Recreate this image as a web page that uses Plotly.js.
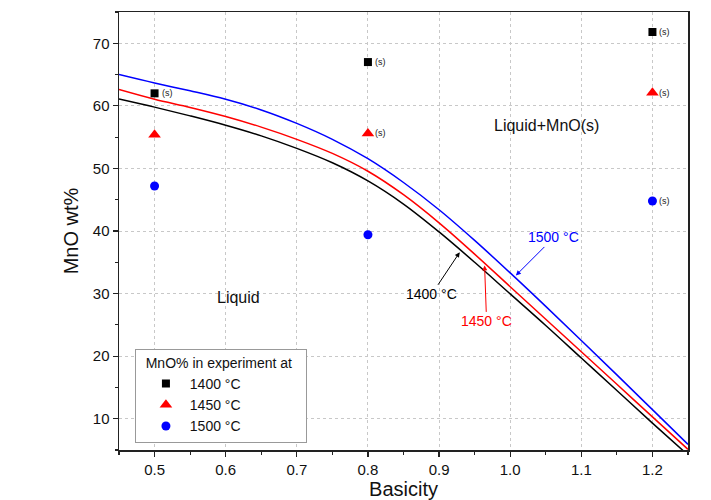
<!DOCTYPE html>
<html>
<head>
<meta charset="utf-8">
<script src="https://cdn.plot.ly/plotly-3.0.1.min.js"></script>
<style>html,body{margin:0;padding:0;background:#fff;}#chart{width:711px;height:500px;}</style>
</head>
<body>
<div id="chart"></div>
<script>
// Calculated liquidus curves
const curveX = [0.45, 0.5, 0.55, 0.6, 0.65, 0.7, 0.75, 0.8, 0.85, 0.9, 0.95, 1.0, 1.05, 1.1, 1.15, 1.2, 1.25];
const curve1400 = [61.1, 59.8, 58.4, 56.9, 55.2, 53.2, 50.9, 48.0, 44.3, 39.85, 35.0, 29.95, 24.9, 19.7, 14.5, 9.3, 4.2];
const curve1450 = [62.6, 61.05, 59.75, 58.3, 56.6, 54.65, 52.4, 49.55, 45.8, 41.3, 36.3, 31.1, 25.9, 20.7, 15.5, 10.3, 5.1];
const curve1500 = [65.0, 63.65, 62.4, 61.05, 59.35, 57.2, 54.65, 51.55, 47.75, 43.4, 38.5, 33.3, 27.95, 22.5, 17.0, 11.45, 5.9];

// Experimental points
const expX = [0.5, 0.8, 1.2];
const exp1400 = [62, 67, 71.8];
const exp1450 = [55.4, 55.6, 62.1];
const exp1500 = [47.2, 39.4, 44.8];

// Points marked as containing solid MnO "(s)"
const solidX = [0.5, 0.8, 1.2, 0.8, 1.2, 1.2];
const solidY = [62, 67, 71.8, 55.6, 62.1, 44.8];

// Curve label arrows (tip positions on the curves)
const curveLabels = ["1400 °C", "1450 °C", "1500 °C"];
const labelTipX = [0.929, 0.964, 1.008];
const labelTipY = [36.6, 34.5, 32.9];

const seriesNames = ["\u00a01400 °C", "\u00a01450 °C", "\u00a01500 °C"];
const legendTitle = "\u00a0\u00a0MnO% in experiment at\u00a0\u00a0\u00a0";
const colors = ["#000000", "#ff0000", "#0000ff"];

const traces = [
  {x: curveX, y: curve1400, mode: "lines", line: {color: colors[0], width: 1.5, shape: "spline", smoothing: 1}, showlegend: false, hoverinfo: "skip"},
  {x: curveX, y: curve1450, mode: "lines", line: {color: colors[1], width: 1.5, shape: "spline", smoothing: 1}, showlegend: false, hoverinfo: "skip"},
  {x: curveX, y: curve1500, mode: "lines", line: {color: colors[2], width: 1.5, shape: "spline", smoothing: 1}, showlegend: false, hoverinfo: "skip"},
  {x: expX, y: exp1400, mode: "markers", name: seriesNames[0], marker: {symbol: "square", size: 8, color: colors[0]}},
  {x: expX, y: exp1450, mode: "markers", name: seriesNames[1], marker: {symbol: "triangle-up", size: 11, color: colors[1]}},
  {x: expX, y: exp1500, mode: "markers", name: seriesNames[2], marker: {symbol: "circle", size: 9, color: colors[2]}}
];

const annotations = [];
solidX.forEach((x, i) => {
  annotations.push({x: x, y: solidY[i], xref: "x", yref: "y", text: "(s)", showarrow: false,
    xanchor: "left", yanchor: "middle", xshift: 5, font: {family: "Arial, Liberation Sans", size: 9, color: "#222"}});
});
annotations.push({x: 1.051, y: 56.9, xref: "x", yref: "y", text: "Liquid+MnO(s)", showarrow: false,
  font: {family: "Arial, Liberation Sans", size: 16, color: "#111"}});
annotations.push({x: 0.618, y: 29.4, xref: "x", yref: "y", text: "Liquid", showarrow: false,
  font: {family: "Arial, Liberation Sans", size: 16, color: "#111"}});
const offsets = [[-28, 42], [2, 56], [38, -38]];
curveLabels.forEach((t, i) => {
  annotations.push({x: labelTipX[i], y: labelTipY[i], xref: "x", yref: "y", text: t, showarrow: true,
    ax: offsets[i][0], ay: offsets[i][1], arrowhead: 2, arrowsize: 1, arrowwidth: 1, arrowcolor: colors[i],
    font: {family: "Arial, Liberation Sans", size: 14, color: colors[i]}});
});

const axisCommon = {
  showline: true, linecolor: "#222", linewidth: 1.5, mirror: true,
  ticks: "outside", ticklen: 5, tickwidth: 1.2, tickcolor: "#222",
  showgrid: true, gridcolor: "#c8c8c8", griddash: "dot", gridwidth: 1,
  zeroline: false,
  tickfont: {family: "Arial, Liberation Sans", size: 15, color: "#111"}
};

const layout = {
  width: 711, height: 500,
  margin: {l: 119, r: 23, t: 12, b: 50},
  paper_bgcolor: "#ffffff", plot_bgcolor: "#ffffff",
  xaxis: Object.assign({}, axisCommon, {
    range: [0.45, 1.25], dtick: 0.1, tick0: 0.5, tickformat: ".1f",
    minor: {ticks: "outside", ticklen: 3, dtick: 0.05, tick0: 0.45, showgrid: false, tickcolor: "#222"},
    title: {text: "Basicity", font: {family: "Arial, Liberation Sans", size: 20, color: "#111"}, standoff: 6}
  }),
  yaxis: Object.assign({}, axisCommon, {
    range: [5, 75], dtick: 10, tick0: 10,
    minor: {ticks: "outside", ticklen: 3, dtick: 5, tick0: 5, showgrid: false, tickcolor: "#222"},
    title: {text: "MnO wt%", font: {family: "Arial, Liberation Sans", size: 20, color: "#111"}, standoff: 9}
  }),
  legend: {
    x: 0.028, y: 0.231, xanchor: "left", yanchor: "top",
    bgcolor: "#ffffff", bordercolor: "#999", borderwidth: 1,
    font: {family: "Arial, Liberation Sans", size: 14, color: "#111"},
    title: {text: legendTitle, side: "top", font: {family: "Arial, Liberation Sans", size: 14, color: "#111"}},
    itemsizing: "trace", tracegroupgap: 0, indentation: 10
  },
  annotations: annotations
};

Plotly.newPlot("chart", traces, layout, {displayModeBar: false, staticPlot: true});
</script>
</body>
</html>
